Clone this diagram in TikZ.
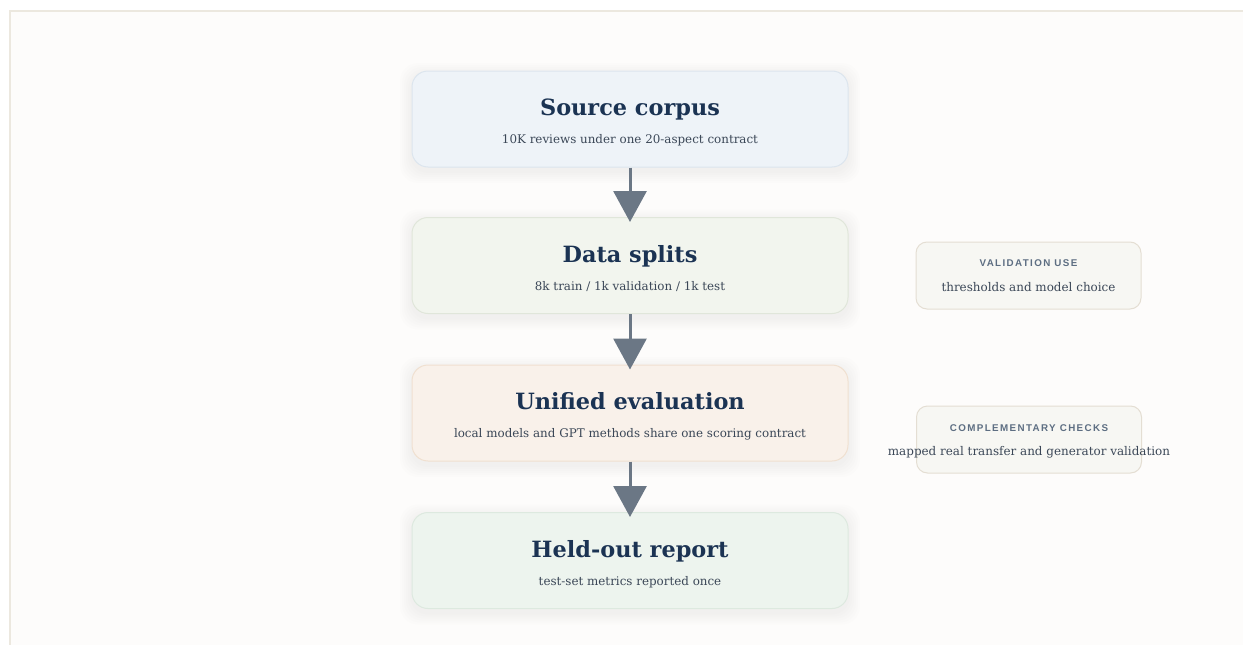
\documentclass[tikz,border=0pt]{standalone}
\usepackage{fontspec}
\setmainfont{DejaVu Serif}
\newfontfamily\capsfont[LetterSpace=14]{Liberation Sans}
\usetikzlibrary{arrows.meta}
\definecolor{pagebg}{HTML}{FDFCFB}
\definecolor{framec}{HTML}{ECE8DF}
\definecolor{titlec}{HTML}{1B3353}
\definecolor{subc}{HTML}{3B4757}
\definecolor{labc}{HTML}{5D6E82}
\definecolor{arrc}{HTML}{6B7785}
\definecolor{shadc}{HTML}{8A8070}
\definecolor{srcfill}{HTML}{EEF3F8}\definecolor{srcdraw}{HTML}{DCE5EE}
\definecolor{splfill}{HTML}{F2F5EE}\definecolor{spldraw}{HTML}{E0E6DA}
\definecolor{evlfill}{HTML}{F9F1EA}\definecolor{evldraw}{HTML}{F0E0D0}
\definecolor{repfill}{HTML}{EDF4EE}\definecolor{repdraw}{HTML}{DDE9DF}
\definecolor{sidefill}{HTML}{F7F7F3}\definecolor{sidedraw}{HTML}{E4DED3}
\tikzset{
  mainbox/.style={rounded corners=16pt, line width=1pt, minimum width=436pt, minimum height=96pt, inner sep=0pt},
  softshadow/.style={fill=shadc, fill opacity=0.011, draw=none, rounded corners=#1},
  sidebox/.style={rounded corners=11pt, line width=1pt, fill=sidefill, draw=sidedraw, minimum width=225pt, minimum height=67pt, inner sep=0pt},
  titletext/.style={anchor=base, text=titlec, font=\bfseries\fontsize{22.4}{26}\selectfont, inner sep=0pt},
  subtext/.style={anchor=base, text=subc, font=\fontsize{11.9}{14}\selectfont, inner sep=0pt},
  captext/.style={anchor=base, text=labc, font=\capsfont\bfseries\fontsize{9.8}{11}\selectfont, inner sep=0pt},
  sidetext/.style={anchor=base, text=subc, font=\fontsize{11.95}{15}\selectfont, inner sep=0pt},
  flow/.style={draw=arrc, line width=3pt, -{Triangle[length=31pt,width=33pt]}, color=arrc}
}
\begin{document}
\begin{tikzpicture}[x=1pt,y=-1pt]
\useasboundingbox (0,0) rectangle (1243,645);
\fill[white] (0,0) rectangle (1243,645);
\fill[pagebg] (10,11) rectangle (1243,645);
\draw[framec, line width=2pt] (10,645) -- (10,11) -- (1243,11);

% soft shadows behind the main boxes
\foreach \cy in {119,265.5,413,560.5}{
  \foreach \g in {2,4,6,8,10,12}{
    \fill[softshadow=18pt] (630-218-\g,\cy-48-\g+4) rectangle (630+218+\g,\cy+48+\g+4);
  }
}

\node[mainbox, fill=srcfill, draw=srcdraw] (src) at (630,119) {};
\node[mainbox, fill=splfill, draw=spldraw] (spl) at (630,265.5) {};
\node[mainbox, fill=evlfill, draw=evldraw] (evl) at (630,413) {};
\node[mainbox, fill=repfill, draw=repdraw] (rep) at (630,560.5) {};

\node[titletext] (srct) at (630,115) {Source corpus};
\node[subtext] (srcs) at (630,143.5) {10K reviews under one 20-aspect contract};
\node[titletext] (splt) at (630,262) {Data splits};
\node[subtext] (spls) at (630,290.5) {8k train / 1k validation / 1k test};
\node[titletext] (evlt) at (630,409) {Unified evaluation};
\node[subtext] (evls) at (630,437.5) {local models and GPT methods share one scoring contract};
\node[titletext] (rept) at (630,557) {Held-out report};
\node[subtext] (reps) at (630,585.5) {test-set metrics reported once};

\node[sidebox] (val) at (1028.5,275.5) {};
\node[captext] (vall) at (1028.5,266.7) {VALIDATION USE};
\node[sidetext] (vals) at (1028.5,291.5) {thresholds and model choice};
\node[sidebox] (cmp) at (1029,439.5) {};
\node[captext] (cmpl) at (1029,431) {COMPLEMENTARY CHECKS};
\node[sidetext] (cmps) at (1029,455) {mapped real transfer and generator validation};

\draw[flow] (src.south) -- ([yshift=-5pt]spl.north);
\draw[flow] (spl.south) -- ([yshift=-5pt]evl.north);
\draw[flow] (evl.south) -- ([yshift=-5pt]rep.north);
\end{tikzpicture}
\end{document}
